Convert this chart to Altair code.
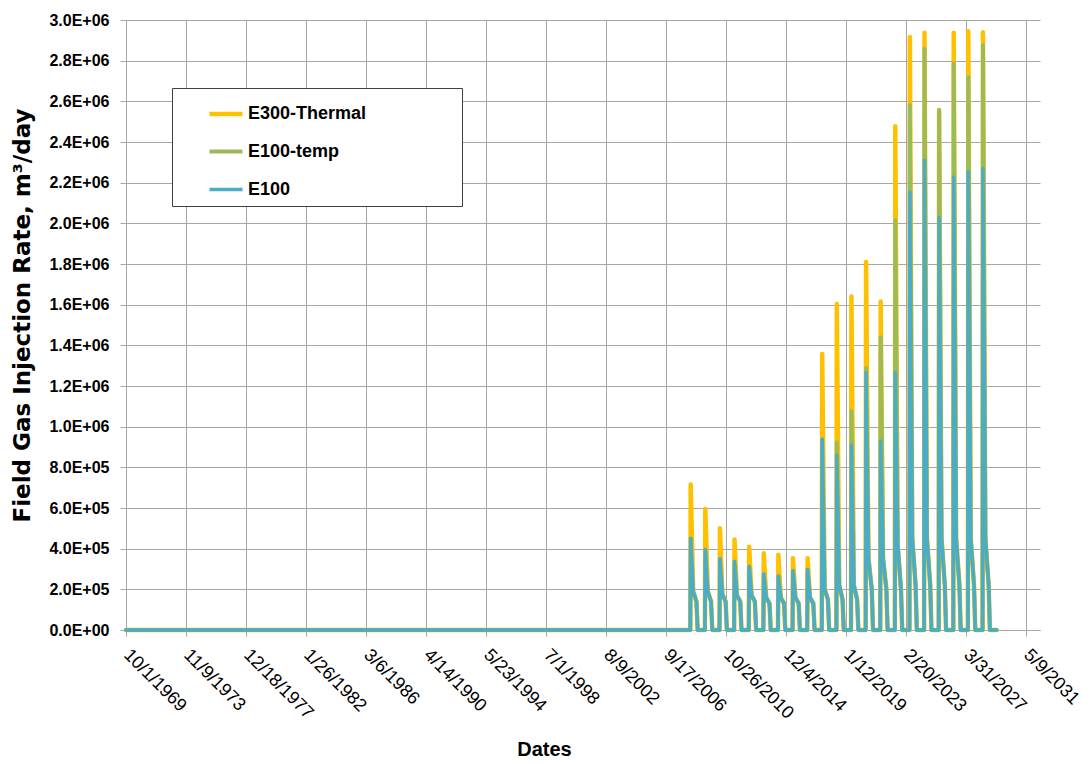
import altair as alt
import pandas as pd

# ---------------- data ----------------
series_names = ["E300-Thermal", "E100-temp", "E100"]
series_colors = ["#FFC000", "#9BBB59", "#4BACC6"]

# injection seasons (one per year)
years = list(range(2008, 2029))
# peak rates (m3/day)
peak_e300 = [715000, 595000, 500000, 445000, 410000, 378000, 370000, 353000, 353000,
             1357000, 1603000, 1640000, 1810000, 1615000, 2478000, 2917000, 2937000,
             2557000, 2937000, 2945000, 2940000]
peak_temp = [450000, 395000, 350000, 337000, 312000, 275000, 265000, 292000, 298000,
             938000, 923000, 1077000, 1287000, 1440000, 2015000, 2582000, 2858000,
             2557000, 2787000, 2720000, 2876000]
peak_e100 = [450000, 395000, 350000, 337000, 312000, 275000, 265000, 292000, 298000,
             938000, 860000, 910000, 1266000, 930000, 1266000, 2153000, 2310000,
             2030000, 2228000, 2255000, 2270000]
# rate after the early decline and at the end of the season
tail_start = [190000, 190000, 175000, 170000, 170000, 160000, 160000, 160000, 160000,
              200000, 220000, 220000, 350000, 350000, 420000, 450000, 450000,
              450000, 450000, 450000, 450000]
tail_end = [140000, 140000, 140000, 140000, 140000, 130000, 130000, 130000, 130000,
            150000, 150000, 150000, 200000, 200000, 200000, 220000, 220000,
            220000, 220000, 220000, 220000]
# season milestones (month, day): start, peak, end of decline, end of tail, shut-in
season_dates = [(5, 15), (5, 25), (7, 25), (10, 15), (11, 15)]
first_date = "1969-10-01"
last_date = "2029-05-01"

x_tick_labels = ["10/1/1969", "11/9/1973", "12/18/1977", "1/26/1982", "3/6/1986",
                 "4/14/1990", "5/23/1994", "7/1/1998", "8/9/2002", "9/17/2006",
                 "10/26/2010", "12/4/2014", "1/12/2019", "2/20/2023", "3/31/2027",
                 "5/9/2031"]
x_axis_end = "2032-04-20"
y_ticks = [0, 200000, 400000, 600000, 800000, 1000000, 1200000, 1400000, 1600000,
           1800000, 2000000, 2200000, 2400000, 2600000, 2800000, 3000000]

# ---------------- build table ----------------
peaks = {"E300-Thermal": peak_e300, "E100-temp": peak_temp, "E100": peak_e100}
rows = []
for name in series_names:
    rows.append({"series": name, "date": first_date + "T00:00:00", "value": 0})
    for i, yr in enumerate(years):
        vals = [0, peaks[name][i], tail_start[i], tail_end[i], 0]
        for (m, d), v in zip(season_dates, vals):
            rows.append({"series": name, "date": f"{yr:04d}-{m:02d}-{d:02d}T00:00:00", "value": v})
    rows.append({"series": name, "date": last_date + "T00:00:00", "value": 0})
df = pd.DataFrame(rows)


def to_dt(s):
    m, d, y = [int(p) for p in s.split("/")]
    return alt.DateTime(year=y, month=m, date=d)


tick_dt = [to_dt(s) for s in x_tick_labels]
y0, m0, d0 = [int(p) for p in first_date.split("-")]
y1, m1, d1 = [int(p) for p in x_axis_end.split("-")]
x_domain = [alt.DateTime(year=y0, month=m0, date=d0), alt.DateTime(year=y1, month=m1, date=d1)]

grid_col = "#A6A6A6"
font = "Liberation Sans"

x_axis = alt.Axis(
    values=tick_dt,
    labelExpr="timeFormat(datum.value, '%-m/%-d/%Y')",
    labelAngle=45, labelAlign="left", labelBaseline="middle",
    labelFont=font, labelFontSize=18, labelColor="black",
    labelOverlap=False, labelFlush=False, labelBound=False, labelPadding=16,
    grid=True, gridColor=grid_col, gridWidth=1,
    domainColor=grid_col, tickColor=grid_col, tickSize=6,
    titleFont=font, titleFontSize=20, titleFontWeight="bold", titleColor="black",
    titleX=418, titleY=119, titleAlign="center", titleBaseline="middle",
)
y_axis = alt.Axis(
    values=y_ticks,
    labelExpr="replace(format(datum.value, '.1e'), 'e+', 'E+0')",
    labelFont=font, labelFontSize=16, labelFontWeight="bold", labelColor="black",
    labelPadding=11, grid=True, gridColor=grid_col, gridWidth=1,
    domainColor=grid_col, tickColor=grid_col, tickSize=6,
    titleFont="DejaVu Sans", titleFontSize=23, titleFontWeight="bold", titleColor="black",
    titleX=-104, titleY=295, titleAlign="center", titleBaseline="middle", titleAngle=270,
)

legend = alt.Legend(
    title="MMMMMM", titleOrient="right", titleOpacity=0, titleFontSize=17,
    titleFont=font, titleFontWeight="bold", titlePadding=4,
    orient="none", legendX=46, legendY=68, direction="vertical",
    symbolType="stroke", symbolSize=1089, symbolOffset=28, labelOffset=3,
    padding=7, rowPadding=10,
    labelFont=font, labelFontSize=18, labelFontWeight="bold", labelColor="black",
    labelLimit=400, strokeColor="#404040", fillColor="white",
)

layers = []
for name in series_names:
    layers.append(
        alt.Chart(df)
        .transform_filter(alt.datum.series == name)
        .mark_line(strokeJoin="round", strokeCap="round")
        .encode(
            x=alt.X("date:T", scale=alt.Scale(domain=x_domain, nice=False), axis=x_axis, title="Dates"),
            y=alt.Y("value:Q", scale=alt.Scale(domain=[0, 3000000], nice=False), axis=y_axis,
                    title="Field Gas Injection Rate, m³/day"),
            color=alt.Color("series:N", scale=alt.Scale(domain=series_names, range=series_colors), legend=legend),
            strokeWidth=alt.StrokeWidth("series:N", scale=alt.Scale(domain=series_names, range=[4.5, 3.5, 3.3]),
                                        legend=legend),
        )
    )

chart = (
    alt.layer(*layers)
    .properties(width=914, height=610, autosize=alt.AutoSizeParams(type="none"),
                padding={"left": 126, "top": 20, "right": 50, "bottom": 134},
                background="white")
    .configure_view(stroke=None)
)

chart.save("out.html", embed_options={"renderer": "svg", "actions": False})
